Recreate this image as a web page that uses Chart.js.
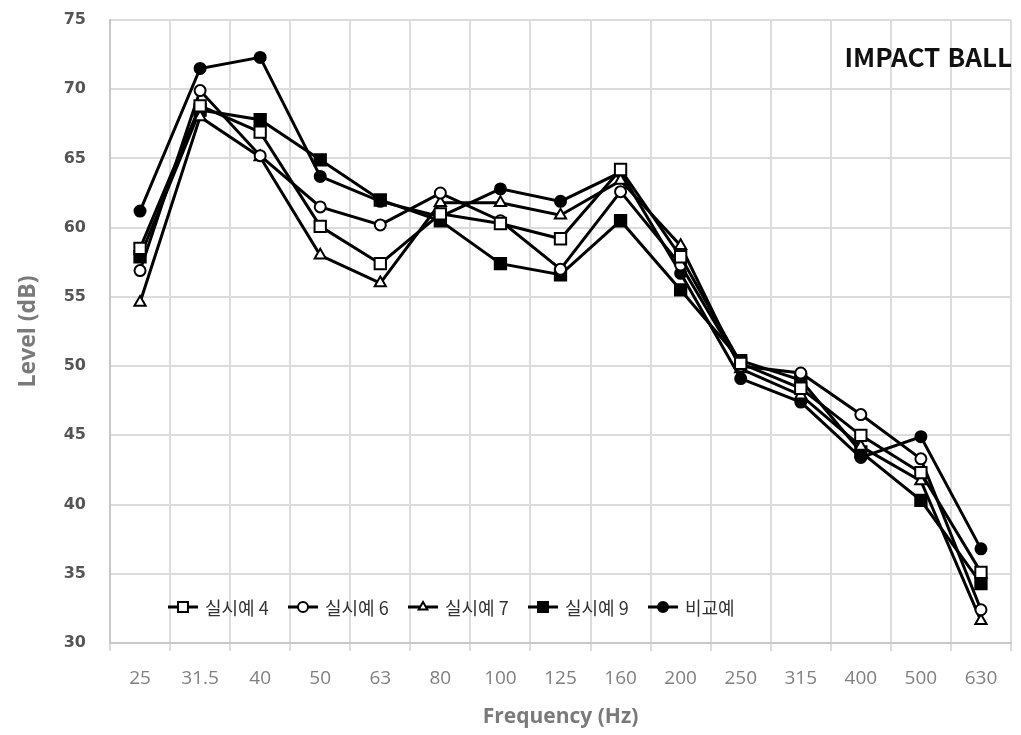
<!DOCTYPE html>
<html lang="ko">
<head>
  <meta charset="UTF-8">
  <title>IMPACT BALL</title>
  <style>
    html, body {
      margin: 0;
      padding: 0;
      background: #fff;
    }
    #wrap {
      width: 1021px;
      height: 735px;
      position: relative;
    }
  </style>
</head>
<body>
  <div id="wrap">
    <canvas id="chart" width="1021" height="735"></canvas>
  </div>

  <script src="https://cdn.jsdelivr.net/npm/chart.js"></script>
  <script>
    // values
    const freqLabels = ['25', '31.5', '40', '50', '63', '80', '100', '125', '160', '200', '250', '315', '400', '500', '630'];
    const ex4  = [58.5, 68.8, 66.9, 60.1, 57.4, 61.0, 60.3, 59.2, 64.2, 57.9, 50.2, 48.4, 45.0, 42.3, 35.1];
    const ex6  = [56.9, 69.9, 65.2, 61.5, 60.2, 62.5, 60.5, 57.0, 62.6, 57.3, 50.0, 49.5, 46.5, 43.3, 32.4];
    const ex7  = [54.6, 68.0, 65.1, 58.0, 56.0, 61.8, 61.8, 60.9, 63.4, 58.7, 49.8, 47.9, 44.2, 41.7, 31.6];
    const ex9  = [57.9, 68.5, 67.8, 64.9, 62.0, 60.5, 57.4, 56.6, 60.5, 55.5, 50.4, 49.0, 43.8, 40.3, 34.3];
    const comp = [61.2, 71.5, 72.3, 63.7, 61.9, 60.8, 62.8, 61.9, 64.0, 56.7, 49.1, 47.4, 43.4, 44.9, 36.8];

    const seriesNames = ['실시예 4', '실시예 6', '실시예 7', '실시예 9', '비교예'];

    function makeSet(label, data, style, filled, radius) {
      return {
        label: label,
        data: data,
        borderColor: '#000',
        borderWidth: 3,
        pointStyle: style,
        pointRadius: radius,
        pointBorderWidth: 2,
        pointBorderColor: '#000',
        pointBackgroundColor: filled ? '#000' : '#fff',
        tension: 0,
        fill: false
      };
    }

    // legend drawn inside the plot, bottom-left
    const lineLegend = {
      id: 'lineLegend',
      afterDatasetsDraw(chart) {
        const ctx = chart.ctx;
        const y = 607;
        ctx.save();
        ctx.font = '18px "Noto Sans CJK KR", "Noto Sans", sans-serif';
        ctx.textBaseline = 'middle';
        chart.data.datasets.forEach((ds, i) => {
          const x = 168 + i * 120;
          ctx.strokeStyle = '#000';
          ctx.lineWidth = 3;
          ctx.beginPath();
          ctx.moveTo(x, y);
          ctx.lineTo(x + 30, y);
          ctx.stroke();
          ctx.lineWidth = 2;
          ctx.fillStyle = ds.pointBackgroundColor;
          Chart.helpers.drawPoint(ctx, {
            pointStyle: ds.pointStyle,
            radius: ds.pointStyle === 'rect' ? 7 : 5,
            borderWidth: 2
          }, x + 15, y);
          ctx.fillStyle = '#333';
          ctx.fillText(ds.label, x + 37, y + 1);
        });
        ctx.restore();
      }
    };

    const cornerTitle = {
      id: 'cornerTitle',
      afterDraw(chart) {
        const ctx = chart.ctx;
        ctx.save();
        ctx.font = 'bold 26px "Noto Sans CJK KR", "Noto Sans", sans-serif';
        ctx.fillStyle = '#111';
        ctx.textAlign = 'right';
        ctx.textBaseline = 'middle';
        ctx.fillText('IMPACT BALL', 1012, 57);
        ctx.restore();
      }
    };

    const ctx = document.getElementById('chart').getContext('2d');
    new Chart(ctx, {
      type: 'line',
      data: {
        labels: freqLabels,
        datasets: [
          makeSet(seriesNames[0], ex4, 'rect', false, 8),
          makeSet(seriesNames[1], ex6, 'circle', false, 5.5),
          makeSet(seriesNames[2], ex7, 'triangle', false, 6.5),
          makeSet(seriesNames[3], ex9, 'rect', true, 8),
          makeSet(seriesNames[4], comp, 'circle', true, 5.5)
        ]
      },
      options: {
        responsive: false,
        animation: false,
        layout: { padding: { top: 20, right: 2, left: 0, bottom: 0 } },
        plugins: {
          legend: { display: false },
          tooltip: { enabled: false }
        },
        scales: {
          x: {
            offset: true,
            grid: { offset: true, color: '#dcdcdc', lineWidth: 2, tickLength: 8 },
            border: { color: '#c8c8c8', width: 2 },
            ticks: {
              color: '#808080',
              padding: 16,
              font: { family: '"Open Sans", sans-serif', size: 19 }
            },
            title: {
              display: true,
              text: 'Frequency (Hz)',
              color: '#7a7a7a',
              padding: { top: 0, bottom: 5 },
              font: { family: '"Open Sans", sans-serif', size: 21, weight: 'bold' }
            },
            afterFit(scale) { scale.height = 92; }
          },
          y: {
            min: 30,
            max: 75,
            ticks: {
              stepSize: 5,
              color: '#555',
              padding: 24,
              font: { family: '"DejaVu Sans", sans-serif', size: 16, weight: 'bold' }
            },
            grid: { color: '#dcdcdc', lineWidth: 2, drawTicks: false },
            border: { color: '#c8c8c8', width: 2 },
            title: {
              display: true,
              text: 'Level (dB)',
              color: '#7a7a7a',
              padding: { top: 15, bottom: 0 },
              font: { family: '"Open Sans", sans-serif', size: 23, weight: 'bold' }
            },
            afterFit(scale) {
              scale.width = 110;
              scale.paddingTop = 0;
              scale.paddingBottom = 0;
            }
          }
        }
      },
      plugins: [lineLegend, cornerTitle]
    });
  </script>
</body>
</html>
